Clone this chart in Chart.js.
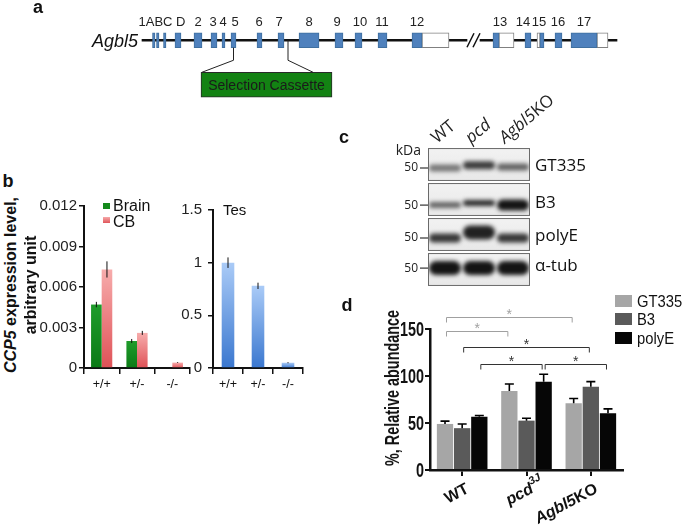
<!DOCTYPE html>
<html>
<head>
<meta charset="utf-8">
<title>Agbl5 / CCP5 figure</title>
<script src="https://cdn.jsdelivr.net/npm/chart.js@4.4.1/dist/chart.umd.min.js"></script>
<style>
  html, body { margin: 0; padding: 0; background: #fff; }
  #fig { position: relative; width: 685px; height: 526px; overflow: hidden;
         font-family: "Liberation Sans", Arial, sans-serif; color: #111; }
  #fig canvas { position: absolute; }
  .t { position: absolute; white-space: nowrap; line-height: 1; }
  .mid { transform: translate(-50%, -50%); }
  .lm { transform: translateY(-50%); }
  .rot { transform: translate(-50%, -50%) rotate(-90deg); }
  .sq { position: absolute; }
  .panel { font-weight: bold; font-size: 18px; }
</style>
</head>
<body>
<div id="fig">
  <canvas id="chartA" width="685" height="110" style="left:0;top:0"></canvas>
  <canvas id="chartBL" width="165" height="200" style="left:30px;top:195px"></canvas>
  <canvas id="chartBR" width="148" height="200" style="left:160px;top:195px"></canvas>
  <canvas id="chartC" width="355" height="195" style="left:330px;top:95px"></canvas>
  <canvas id="chartD" width="345" height="246" style="left:340px;top:280px"></canvas>

  <div class="t mid panel" style="left:38px;top:7px">a</div>
  <div class="t lm" style="right:547px;top:41px;font-style:italic;font-size:18px">Agbl5</div>

  <div class="t mid panel" style="left:8px;top:181px">b</div>
  <div class="t rot" style="left:11px;top:285px;font-weight:bold;font-size:16px"><i>CCP5</i> expression level,</div>
  <div class="t rot" style="left:31px;top:285px;font-weight:bold;font-size:16px">arbitrary unit</div>
  <div class="sq" style="left:103px;top:203px;width:7px;height:6px;background:#148a1c"></div>
  <div class="t lm" style="left:113px;top:206px;font-size:16px">Brain</div>
  <div class="sq" style="left:103px;top:217px;width:7px;height:6px;background:linear-gradient(#f6a9a9,#e0555a)"></div>
  <div class="t lm" style="left:113px;top:222px;font-size:16px">CB</div>
  <div class="t lm" style="left:223px;top:209px;font-size:15px">Tes</div>

  <div class="t mid panel" style="left:344px;top:137px">c</div>

  <div class="t mid panel" style="left:347px;top:305px">d</div>
  <div class="t" style="left:392px;top:388px;font-weight:bold;font-size:20px;transform:translate(-50%,-50%) rotate(-90deg) scaleX(0.72)">%, Relative abundance</div>
  <div class="sq" style="left:615px;top:295px;width:17px;height:12px;background:#a6a6a6"></div>
  <div class="sq" style="left:615px;top:313px;width:17px;height:12px;background:#5a5a5a"></div>
  <div class="sq" style="left:615px;top:332px;width:17px;height:12px;background:#060606"></div>
  <div class="t" style="left:637px;top:301px;font-size:17px;transform:translateY(-50%) scaleX(0.87);transform-origin:left center">GT335</div>
  <div class="t" style="left:637px;top:319px;font-size:17px;transform:translateY(-50%) scaleX(0.87);transform-origin:left center">B3</div>
  <div class="t" style="left:637px;top:338px;font-size:17px;transform:translateY(-50%) scaleX(0.87);transform-origin:left center">polyE</div>
</div>

<script>
// ---- panel a: gene model (diagram units) ----
const exonStart = [152.5, 156.5, 163.5, 175, 194, 211, 222, 231, 257, 278, 299, 335, 355, 378, 412, 493, 525, 540, 555, 571];
const exonEnd   = [155, 159, 166, 181, 202, 217, 225, 236, 262, 284, 319, 343, 362, 387, 422, 499, 531, 544, 562, 597];
const utrStart  = [422, 499, 537, 597];
const utrEnd    = [449, 514, 540, 608];
const intronSegments = [[142, 467], [480, 617]];
const exonLabels   = ['1ABC D', '2', '3', '4', '5', '6', '7', '8', '9', '10', '11', '12', '13', '14', '15', '16', '17'];
const exonLabelPos = [162, 198, 213, 223, 235, 259, 279, 309, 337, 360, 382, 417, 500, 523, 539, 558, 584];
const cassette = [201, 332];
const cassetteLinks = [233.5, 288];
const geneBreak = 467;

// ---- panel b: CCP5 expression ----
const genotypes = ['+/+', '+/-', '-/-'];
const brainMean = [0.0047, 0.002, 0];
const brainErr  = [0.0002, 0.00015, 0];
const cbMean    = [0.0073, 0.0026, 0.0004];
const cbErr     = [0.0006, 0.00015, 0.00003];
const tesMean   = [1.0, 0.78, 0.05];
const tesErr    = [0.05, 0.03, 0.005];

// ---- panel c: western blot ----
const blotLanes = ['WT', 'pcd', 'Agbl5KO'];
const blotRows  = ['GT335', 'B3', 'polyE', 'α-tub'];
const bandDensity = [
  [0.55, 0.82, 0.64],
  [0.64, 0.9, 1.0],
  [0.84, 0.94, 0.84],
  [1.0, 1.0, 1.0],
];
const bandThickness = [
  [7, 8, 7],
  [6, 6, 11],
  [9, 14, 9],
  [14, 14, 14],
];
const bandCentre = [
  [0.6, 0.52, 0.57],
  [0.66, 0.6, 0.66],
  [0.6, 0.44, 0.6],
  [0.46, 0.46, 0.46],
];
const markerRow = [0.6, 0.66, 0.6, 0.46];
const markerLabel = '50';

// ---- panel d: relative abundance ----
const strains  = ['WT', 'pcd3J', 'Agbl5KO'];
const gt335    = [49, 84, 71];
const gt335Err = [3, 7.5, 5];
const b3       = [44.5, 52.5, 88.6];
const b3Err    = [4.5, 2.5, 5.4];
const polyE    = [56.7, 94, 60.3];
const polyEErr = [1.2, 7.8, 4.7];
const sigBrackets = [
  { from: [0, 0], to: [2, 0], level: 163, grey: true },
  { from: [0, 0], to: [1, 0], level: 148, grey: true },
  { from: [0, 1], to: [2, 1], level: 131 },
  { from: [0, 2], to: [1, 2], level: 113 },
  { from: [1, 2], to: [2, 2], level: 113 },
];
const strainLabelParts = [
  [{ t: 'WT' }],
  [{ t: 'pcd', it: true }, { t: '3J', it: true, sup: true }],
  [{ t: 'Agbl5', it: true }, { t: 'KO' }],
];

const fontSans = '"Liberation Sans", Arial, sans-serif';
const fontBlot = '"Open Sans", "Liberation Sans", sans-serif';
Chart.defaults.font.family = fontSans;
Chart.defaults.color = '#111';
Chart.defaults.animation = false;
Chart.defaults.plugins.legend.display = false;
Chart.defaults.plugins.tooltip.enabled = false;

// ================= panel a =================
const bar = (data, bg, border, thick, order) => ({
  data, backgroundColor: bg, borderColor: border, borderWidth: border ? 1 : 0,
  borderSkipped: false, barThickness: thick, grouped: false, order
});

const geneAnnot = {
  id: 'geneAnnot',
  afterDatasetsDraw(chart) {
    const { ctx, scales: { x, y } } = chart;
    const yGene = y.getPixelForValue(0), yCas = y.getPixelForValue(1);
    ctx.save();
    ctx.fillStyle = '#222';
    ctx.font = '13px ' + fontSans;
    ctx.textAlign = 'center';
    ctx.textBaseline = 'middle';
    exonLabels.forEach((t, i) => ctx.fillText(t, x.getPixelForValue(exonLabelPos[i]), yGene - 18));

    ctx.strokeStyle = '#222';
    ctx.lineWidth = 1;
    const casTop = yCas - 12.5;
    const l = x.getPixelForValue(cassetteLinks[0]), r = x.getPixelForValue(cassetteLinks[1]);
    ctx.beginPath();
    ctx.moveTo(l, yGene + 7.5); ctx.lineTo(l, yGene + 20); ctx.lineTo(x.getPixelForValue(cassette[0] + 1), casTop);
    ctx.moveTo(r, yGene); ctx.lineTo(r, yGene + 20); ctx.lineTo(x.getPixelForValue(cassette[1] - 19), casTop);
    ctx.stroke();

    ctx.lineWidth = 1.5;
    ctx.strokeStyle = '#111';
    ctx.beginPath();
    ctx.moveTo(x.getPixelForValue(geneBreak), yGene + 7); ctx.lineTo(x.getPixelForValue(geneBreak + 7), yGene - 7);
    ctx.moveTo(x.getPixelForValue(geneBreak + 6), yGene + 7); ctx.lineTo(x.getPixelForValue(geneBreak + 13), yGene - 7);
    ctx.stroke();

    ctx.fillStyle = '#1a1a1a';
    ctx.font = '14px ' + fontSans;
    ctx.fillText('Selection Cassette', x.getPixelForValue((cassette[0] + cassette[1]) / 2), yCas + 1);
    ctx.restore();
  }
};

new Chart(document.getElementById('chartA'), {
  type: 'bar',
  data: {
    labels: ['gene', 'cassette'],
    datasets: [
      ...exonStart.map((s, i) => bar([[s, exonEnd[i]], null], '#4f81bd', '#3f6f9f', 15, 1)),
      ...utrStart.map((s, i) => bar([[s, utrEnd[i]], null], '#ffffff', '#808080', 15, 1)),
      ...intronSegments.map(seg => bar([seg, null], '#111111', null, 1.6, 3)),
      bar([null, cassette], '#138213', '#2a2a2a', 25, 1),
    ]
  },
  options: {
    responsive: false,
    indexAxis: 'y',
    layout: { padding: { top: 18, bottom: 3, left: 0, right: 0 } },
    scales: {
      x: { type: 'linear', display: false, min: 0, max: 685 },
      y: { display: false }
    }
  },
  plugins: [geneAnnot]
});

// ================= panel b =================
function barGradient(top, bottom) {
  return (c) => {
    const { ctx, chartArea, scales } = c.chart;
    if (!chartArea || c.type !== 'data' || !c.raw) return bottom;
    const yTop = scales.y.getPixelForValue(c.raw), yBot = scales.y.getPixelForValue(0);
    if (!(yBot > yTop)) return bottom;
    const g = ctx.createLinearGradient(0, yTop, 0, yBot);
    g.addColorStop(0, top);
    g.addColorStop(1, bottom);
    return g;
  };
}

const errorBarsB = {
  id: 'errB',
  afterDatasetsDraw(chart) {
    const { ctx, scales: { y } } = chart;
    ctx.save();
    ctx.strokeStyle = '#111';
    ctx.lineWidth = 1;
    chart.data.datasets.forEach((ds, d) => {
      const meta = chart.getDatasetMeta(d);
      ds.errors.forEach((e, i) => {
        if (!e) return;
        const el = meta.data[i], v = ds.data[i];
        ctx.beginPath();
        ctx.moveTo(el.x, y.getPixelForValue(v - e));
        ctx.lineTo(el.x, y.getPixelForValue(v + e));
        ctx.stroke();
      });
    });
    ctx.restore();
  }
};

function axisB(yMax, step, yWidth, labelPad) {
  return {
    x: {
      grid: { drawOnChartArea: false, drawTicks: true, tickLength: 6, color: '#111', lineWidth: 1.5 },
      border: { display: true, color: '#111', width: 2 },
      ticks: { font: { size: 12.5 }, color: '#111', padding: 3 },
      afterFit(s) { s.height = 27; }
    },
    y: {
      min: 0, max: yMax,
      ticks: { stepSize: step, font: { size: 15 }, color: '#222', padding: labelPad,
               callback: v => String(+v.toFixed(3)) },
      grid: { drawOnChartArea: false, drawTicks: true, tickLength: 5, color: '#111', lineWidth: 1.5 },
      border: { display: true, color: '#111', width: 2 },
      afterFit(s) { s.width = yWidth; }
    }
  };
}

new Chart(document.getElementById('chartBL'), {
  type: 'bar',
  data: {
    labels: genotypes,
    datasets: [
      { label: 'Brain', data: brainMean, errors: brainErr, backgroundColor: barGradient('#1f9c2b', '#0b7a16') },
      { label: 'CB', data: cbMean, errors: cbErr, backgroundColor: barGradient('#f7acac', '#df5257') },
    ]
  },
  options: {
    responsive: false,
    layout: { padding: { top: 10, right: 5, left: 0, bottom: 0 } },
    datasets: { bar: { categoryPercentage: 0.6, barPercentage: 1.0 } },
    scales: axisB(0.012, 0.003, 54, 2)
  },
  plugins: [errorBarsB]
});

new Chart(document.getElementById('chartBR'), {
  type: 'bar',
  data: {
    labels: genotypes,
    datasets: [
      { label: 'Tes', data: tesMean, errors: tesErr, backgroundColor: barGradient('#aacbf7', '#3a77cf') },
    ]
  },
  options: {
    responsive: false,
    layout: { padding: { top: 14, right: 5, left: 0, bottom: 0 } },
    datasets: { bar: { categoryPercentage: 0.42, barPercentage: 1.0 } },
    scales: axisB(1.5, 0.5, 53, 6)
  },
  plugins: [errorBarsB]
});

// ================= panel c =================
const blotPlugin = {
  id: 'blot',
  afterDraw(chart) {
    const { ctx, chartArea: a, scales: { x, y } } = chart;
    ctx.save();
    blotRows.forEach((name, r) => {
      const top = y.getPixelForValue(r + 0.03), bot = y.getPixelForValue(r + 0.97);
      const g = ctx.createLinearGradient(0, top, 0, bot);
      g.addColorStop(0, '#f2f2f2');
      g.addColorStop(1, '#e8e8e8');
      ctx.fillStyle = g;
      ctx.fillRect(a.left, top, a.right - a.left, bot - top);

      ctx.save();
      ctx.beginPath();
      ctx.rect(a.left, top, a.right - a.left, bot - top);
      ctx.clip();
      ctx.filter = 'blur(2px)';
      blotLanes.forEach((lane, i) => {
        const cx = x.getPixelForValue(i);
        const cy = y.getPixelForValue(r + bandCentre[r][i]);
        const h = bandThickness[r][i];
        ctx.fillStyle = `rgba(20,20,20,${bandDensity[r][i]})`;
        ctx.beginPath();
        ctx.roundRect(cx - 16, cy - h / 2, 32, h, h / 2);
        ctx.fill();
      });
      ctx.restore();

      ctx.strokeStyle = '#6a6a6a';
      ctx.lineWidth = 1;
      ctx.strokeRect(a.left + 0.5, top + 0.5, a.right - a.left - 1, bot - top - 1);

      const my = y.getPixelForValue(r + markerRow[r]);
      ctx.strokeStyle = '#333';
      ctx.lineWidth = 1.2;
      ctx.beginPath();
      ctx.moveTo(a.left - 8, my);
      ctx.lineTo(a.left, my);
      ctx.stroke();
      ctx.fillStyle = '#222';
      ctx.font = '12px ' + fontBlot;
      ctx.textAlign = 'right';
      ctx.textBaseline = 'middle';
      ctx.fillText(markerLabel, a.left - 10, my);

      ctx.fillStyle = '#111';
      ctx.font = '17px ' + fontBlot;
      ctx.textAlign = 'left';
      ctx.fillText(name, a.right + 5, y.getPixelForValue(r + markerRow[r] - 0.05));
    });

    ctx.fillStyle = '#222';
    ctx.font = '14px ' + fontBlot;
    ctx.textAlign = 'right';
    ctx.textBaseline = 'middle';
    ctx.fillText('kDa', a.left - 7, a.top + 4);

    const laneParts = [
      [{ t: 'WT' }],
      [{ t: 'pcd', it: true }],
      [{ t: 'Agbl5', it: true }, { t: 'KO' }],
    ];
    ctx.textAlign = 'left';
    ctx.textBaseline = 'alphabetic';
    laneParts.forEach((parts, i) => {
      ctx.save();
      ctx.translate(x.getPixelForValue(i) - 8, a.top - 3);
      ctx.rotate(-40 * Math.PI / 180);
      let pos = 0;
      parts.forEach(p => {
        ctx.font = (p.it ? 'italic ' : '') + '17px ' + fontBlot;
        ctx.fillText(p.t, pos, 0);
        pos += ctx.measureText(p.t).width;
      });
      ctx.restore();
    });
    ctx.restore();
  }
};

new Chart(document.getElementById('chartC'), {
  type: 'bar',
  data: { labels: blotLanes, datasets: [] },
  options: {
    responsive: false,
    layout: { padding: { left: 98, right: 155, top: 52, bottom: 3 } },
    scales: {
      x: { display: false },
      y: { display: false, min: 0, max: 4, reverse: true }
    }
  },
  plugins: [blotPlugin]
});

// ================= panel d =================
const panelD = {
  id: 'panelD',
  afterDatasetsDraw(chart) {
    const { ctx, chartArea: a, scales: { x, y } } = chart;
    const barX = (cat, ds) => chart.getDatasetMeta(ds).data[cat].x;
    ctx.save();

    ctx.strokeStyle = '#000';
    ctx.lineWidth = 1.6;
    chart.data.datasets.forEach((ds, d) => {
      chart.getDatasetMeta(d).data.forEach((el, i) => {
        const top = y.getPixelForValue(ds.data[i] + ds.errors[i]);
        ctx.beginPath();
        ctx.moveTo(el.x, el.y);
        ctx.lineTo(el.x, top);
        ctx.moveTo(el.x - 4.5, top);
        ctx.lineTo(el.x + 4.5, top);
        ctx.stroke();
      });
    });

    ctx.lineWidth = 1;
    ctx.textAlign = 'center';
    ctx.textBaseline = 'alphabetic';
    ctx.font = '14px ' + fontSans;
    sigBrackets.forEach(b => {
      const col = b.grey ? '#a0a0a0' : '#333';
      const xa = barX(b.from[0], b.from[1]) + 1.5, xb = barX(b.to[0], b.to[1]) - 1.5;
      const yl = Math.round(y.getPixelForValue(b.level)) + 0.5;
      ctx.strokeStyle = col;
      ctx.beginPath();
      ctx.moveTo(xa, yl + 5); ctx.lineTo(xa, yl); ctx.lineTo(xb, yl); ctx.lineTo(xb, yl + 5);
      ctx.stroke();
      ctx.fillStyle = col;
      ctx.fillText('*', (xa + xb) / 2, yl + 1);
    });

    ctx.fillStyle = '#111';
    ctx.font = 'bold 20px ' + fontSans;
    ctx.textAlign = 'right';
    ctx.textBaseline = 'middle';
    y.ticks.forEach(t => {
      ctx.save();
      ctx.translate(a.left - 6, y.getPixelForValue(t.value) + 1);
      ctx.scale(0.72, 1);
      ctx.fillText(String(t.value), 0, 0);
      ctx.restore();
    });

    ctx.textAlign = 'left';
    ctx.textBaseline = 'top';
    const fontOf = p => `${p.it ? 'italic ' : ''}bold ${p.sup ? 11 : 16}px ${fontSans}`;
    strainLabelParts.forEach((parts, i) => {
      ctx.save();
      ctx.translate(x.getPixelForValue(i) + 2, a.bottom + 11);
      ctx.rotate(-28 * Math.PI / 180);
      let w = 0;
      parts.forEach(p => { if (!p.sup) { ctx.font = fontOf(p); w += ctx.measureText(p.t).width; } });
      let pos = -w;
      parts.forEach(p => {
        ctx.font = fontOf(p);
        ctx.fillText(p.t, pos, p.sup ? -4 : 0);
        pos += ctx.measureText(p.t).width;
      });
      ctx.restore();
    });
    ctx.restore();
  }
};

new Chart(document.getElementById('chartD'), {
  type: 'bar',
  data: {
    labels: strains,
    datasets: [
      { label: 'GT335', data: gt335, errors: gt335Err, backgroundColor: '#a6a6a6' },
      { label: 'B3', data: b3, errors: b3Err, backgroundColor: '#5a5a5a' },
      { label: 'polyE', data: polyE, errors: polyEErr, backgroundColor: '#060606' },
    ]
  },
  options: {
    responsive: false,
    layout: { padding: { top: 49, right: 62, left: 0, bottom: 0 } },
    datasets: { bar: { categoryPercentage: 0.8, barPercentage: 0.95 } },
    scales: {
      x: {
        grid: { offset: false, drawOnChartArea: false, drawTicks: true, tickLength: 6, color: '#111', lineWidth: 2 },
        border: { display: true, color: '#111', width: 2.5 },
        ticks: { display: false },
        afterFit(s) { s.height = 56; }
      },
      y: {
        min: 0, max: 150,
        ticks: { stepSize: 50, display: false },
        grid: { drawOnChartArea: false, drawTicks: true, tickLength: 5, color: '#111', lineWidth: 2 },
        border: { display: true, color: '#111', width: 2.5 },
        afterFit(s) { s.width = 90; }
      }
    }
  },
  plugins: [panelD]
});
</script>
</body>
</html>
